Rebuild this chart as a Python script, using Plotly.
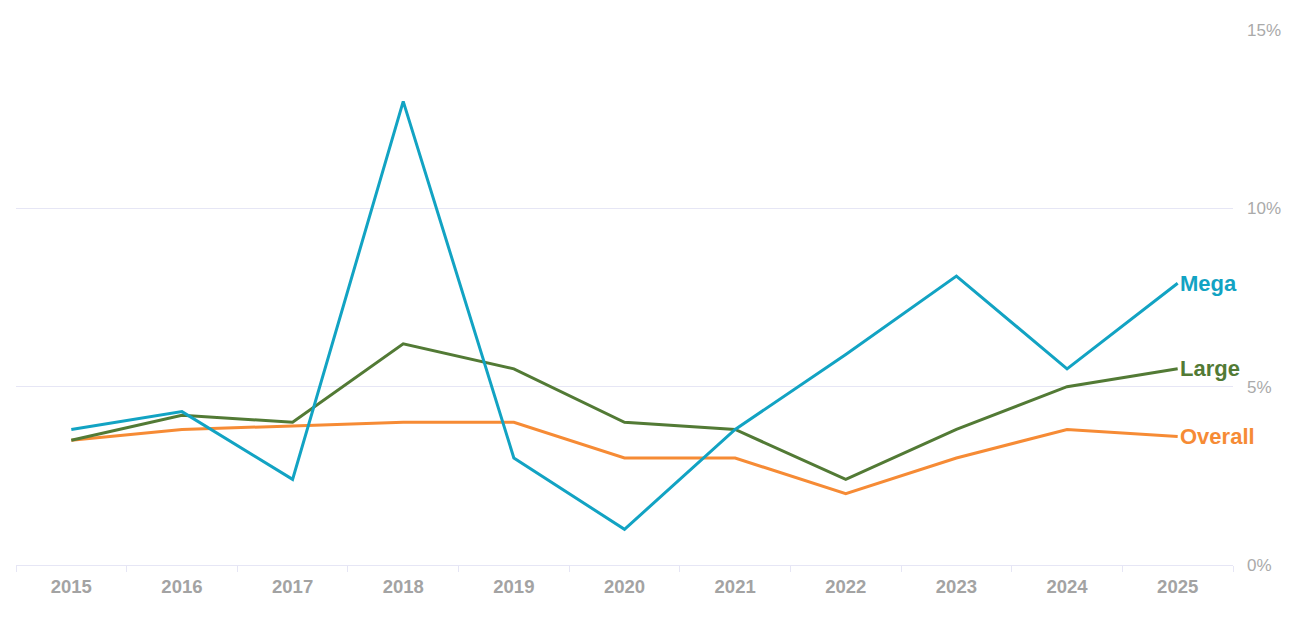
import plotly.graph_objects as go

years = ["2015", "2016", "2017", "2018", "2019", "2020",
         "2021", "2022", "2023", "2024", "2025"]

overall = [3.5, 3.8, 3.9, 4.0, 4.0, 3.0, 3.0, 2.0, 3.0, 3.8, 3.6]
large = [3.5, 4.2, 4.0, 6.2, 5.5, 4.0, 3.8, 2.4, 3.8, 5.0, 5.5]
mega = [3.8, 4.3, 2.4, 13.0, 3.0, 1.0, 3.8, 5.9, 8.1, 5.5, 7.9]

y_ticks = [0, 5, 10, 15]
y_labels = ["0%", "5%", "10%", "15%"]

series = [
    ("Overall", overall, "#f68b35"),
    ("Large", large, "#527a35"),
    ("Mega", mega, "#12a3c3"),
]

grid = "#e6e6f5"

fig = go.Figure()
for name, vals, col in series:
    fig.add_trace(go.Scatter(x=years, y=vals, mode="lines", name=name,
                             line=dict(color=col, width=3)))
    # end-of-line label (category index, a "2025" string would be read as index 2025)
    fig.add_annotation(x=len(years) - 1, y=vals[-1], text="<b>" + name + "</b>",
                       showarrow=False, xanchor="left", yanchor="middle",
                       xshift=0, font=dict(color=col, size=22))

# page body has an 8px margin, so margins are shifted to compensate
fig.update_layout(
    width=1312, height=617,
    margin=dict(l=8, r=87, t=22, b=60, autoexpand=False),
    paper_bgcolor="white", plot_bgcolor="white",
    showlegend=False,
    font=dict(family="Liberation Sans, Arial, sans-serif"),
)
fig.update_xaxes(
    type="category", range=[-0.5, len(years) - 0.5], automargin=False,
    showgrid=False, showline=True, linecolor=grid, linewidth=1,
    ticks="outside", tickson="boundaries", ticklen=6, tickcolor=grid,
    tickfont=dict(size=18.5, color="#a3a3a3", weight="bold"), tickangle=0,
    ticklabelstandoff=5,
)
fig.update_yaxes(
    side="right", range=[0, 15], tickvals=y_ticks, ticktext=y_labels,
    automargin=False, showgrid=True, gridcolor=grid, zeroline=False,
    tickfont=dict(size=17, color="#aaaaaa"), ticklabelstandoff=13,
)

fig.write_html("out.html")
